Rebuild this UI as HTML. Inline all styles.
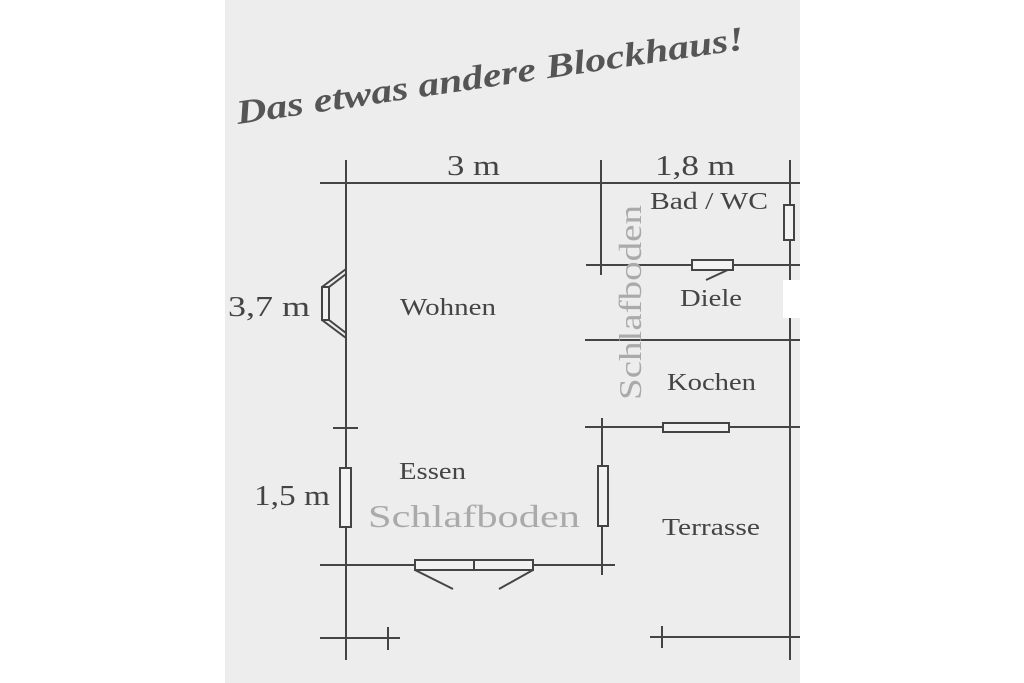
<!DOCTYPE html>
<html><head><style>
body{margin:0;background:#fff;}
</style></head><body>
<svg width="1024" height="683" xmlns="http://www.w3.org/2000/svg" style="display:block">
<rect x="225" y="0" width="575" height="683" fill="#ededed"/>
<g stroke="#444" stroke-width="2" fill="none">
<line x1="320" y1="183" x2="800" y2="183"/>
<line x1="346" y1="160" x2="346" y2="660"/>
<line x1="601" y1="160" x2="601" y2="275"/>
<line x1="790" y1="160" x2="790" y2="660"/>
<line x1="586" y1="265" x2="800" y2="265"/>
<line x1="585" y1="340" x2="800" y2="340"/>
<line x1="585" y1="427" x2="800" y2="427"/>
<line x1="602" y1="418" x2="602" y2="575"/>
<line x1="320" y1="565" x2="615" y2="565"/>
<line x1="333" y1="428" x2="358" y2="428"/>
<line x1="320" y1="638" x2="400" y2="638"/>
<line x1="388" y1="627" x2="388" y2="650"/>
<line x1="650" y1="637" x2="800" y2="637"/>
<line x1="662" y1="626" x2="662" y2="648"/>
<line x1="346" y1="269" x2="322" y2="287"/>
<line x1="322" y1="287" x2="322" y2="320"/>
<line x1="322" y1="320" x2="346" y2="338"/>
<line x1="346" y1="274" x2="329" y2="287"/>
<line x1="329" y1="320" x2="346" y2="333"/>
<line x1="732" y1="268" x2="706" y2="280"/>
<line x1="415" y1="570" x2="453" y2="589"/>
<line x1="533" y1="570" x2="499" y2="589"/>
</g>
<g stroke="#444" stroke-width="2" fill="#f2f2f2">
<rect x="322" y="287" width="7" height="33"/>
<rect x="784" y="205" width="10" height="35"/>
<rect x="692" y="260" width="41" height="10"/>
<rect x="663" y="423" width="66" height="9"/>
<rect x="598" y="466" width="10" height="60"/>
<rect x="340" y="468" width="11" height="59"/>
<rect x="415" y="560" width="118" height="10"/>
<line x1="474" y1="560" x2="474" y2="570"/>
</g>
<rect x="783" y="280" width="17" height="38" fill="#fff"/>
<g font-family="Liberation Serif, serif" fill="#444">
<text x="447" y="175" font-size="29" textLength="53" lengthAdjust="spacingAndGlyphs">3 m</text>
<text x="655" y="175" font-size="29" textLength="80" lengthAdjust="spacingAndGlyphs">1,8 m</text>
<text x="650" y="209" font-size="24" textLength="118" lengthAdjust="spacingAndGlyphs">Bad / WC</text>
<text x="680" y="306" font-size="24" textLength="62" lengthAdjust="spacingAndGlyphs">Diele</text>
<text x="667" y="390" font-size="24" textLength="89" lengthAdjust="spacingAndGlyphs">Kochen</text>
<text x="400" y="315" font-size="24" textLength="96" lengthAdjust="spacingAndGlyphs">Wohnen</text>
<text x="228" y="316" font-size="29" textLength="82" lengthAdjust="spacingAndGlyphs">3,7 m</text>
<text x="399" y="479" font-size="24" textLength="67" lengthAdjust="spacingAndGlyphs">Essen</text>
<text x="254" y="505" font-size="29" textLength="76" lengthAdjust="spacingAndGlyphs">1,5 m</text>
<text x="662" y="535" font-size="24" textLength="98" lengthAdjust="spacingAndGlyphs">Terrasse</text>
<text x="368" y="527" font-size="32" fill="#aaa" textLength="212" lengthAdjust="spacingAndGlyphs">Schlafboden</text>
<text transform="translate(641,400) rotate(-90)" font-size="32" fill="#aaa" textLength="195" lengthAdjust="spacingAndGlyphs">Schlafboden</text>
<text transform="translate(238,124) rotate(-8.4)" font-size="34" font-weight="bold" font-style="italic" fill="#555" textLength="513" lengthAdjust="spacingAndGlyphs">Das etwas andere Blockhaus!</text>
</g>
</svg>
</body></html>
